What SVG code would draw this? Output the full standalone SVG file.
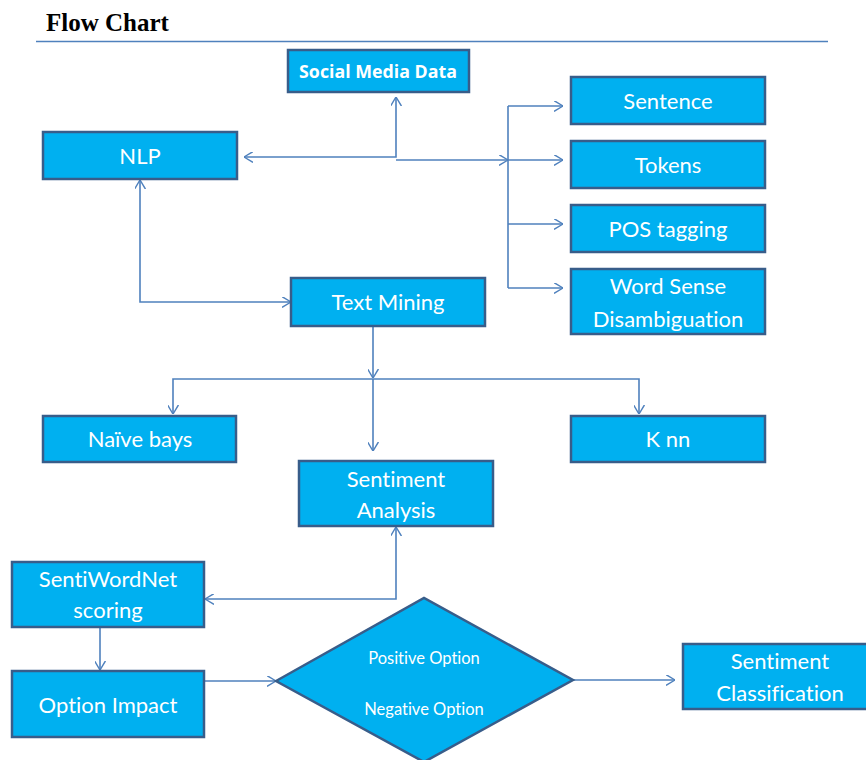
<svg xmlns="http://www.w3.org/2000/svg" width="866" height="760" viewBox="0 0 866 760">
<style>
text{font-variant-ligatures:none;font-feature-settings:"liga" 0,"clig" 0,"dlig" 0}
.box{fill:#00b0f0;stroke:#385d8a;stroke-width:2.5}
.t{fill:#ffffff;font-family:Lato,"Open Sans",sans-serif;font-size:22px;text-anchor:middle}
.ts{fill:#ffffff;font-family:Lato,"Open Sans",sans-serif;font-size:16.5px;text-anchor:middle}
.c{fill:none;stroke:#4f81bd;stroke-width:1.6}
</style>
<defs>
<marker id="a" viewBox="0 0 10 12" refX="10" refY="6" markerWidth="9" markerHeight="11" markerUnits="userSpaceOnUse" orient="auto-start-reverse">
<path d="M0,0 L10,6 L0,12" fill="none" stroke="#4f81bd" stroke-width="1.6"/>
</marker>
</defs>
<rect width="866" height="760" fill="#ffffff"/>
<text x="46" y="31" font-family="'Liberation Serif',serif" font-weight="bold" font-size="25" fill="#000">Flow Chart</text>
<line x1="36" y1="41.5" x2="828" y2="41.5" stroke="#4f81bd" stroke-width="1.5"/>

<g id="connectors">
<path class="c" d="M244,157 H396 V97" marker-start="url(#a)" marker-end="url(#a)"/>
<path class="c" d="M396,160 H508" marker-end="url(#a)"/>
<path class="c" d="M508,106 V288"/>
<path class="c" d="M508,106 H563" marker-end="url(#a)"/>
<path class="c" d="M508,160 H563" marker-end="url(#a)"/>
<path class="c" d="M508,224 H563" marker-end="url(#a)"/>
<path class="c" d="M508,288 H563" marker-end="url(#a)"/>
<path class="c" d="M140,180 V302 H291" marker-start="url(#a)" marker-end="url(#a)"/>
<path class="c" d="M373,326 V378" marker-end="url(#a)"/>
<path class="c" d="M173,414 V379 H639 V414" marker-start="url(#a)" marker-end="url(#a)"/>
<path class="c" d="M373,379 V451" marker-end="url(#a)"/>
<path class="c" d="M396,527 V599 H205" marker-start="url(#a)" marker-end="url(#a)"/>
<path class="c" d="M100,627 V670" marker-end="url(#a)"/>
<path class="c" d="M204,681 H276" marker-end="url(#a)"/>
<path class="c" d="M573,680 H675" marker-end="url(#a)"/>
</g>

<g id="social-media-data">
<rect class="box" x="288" y="50" width="181" height="42"/>
<text x="378" y="78" font-family="'Open Sans',Lato,sans-serif" font-weight="bold" font-size="17.8" fill="#fff" text-anchor="middle">Social Media Data</text>
</g>
<g id="nlp">
<rect class="box" x="43" y="132" width="194" height="47"/>
<text class="t" x="140" y="164">NLP</text>
</g>
<g id="sentence">
<rect class="box" x="571" y="77" width="194" height="47"/>
<text class="t" x="668" y="109">Sentence</text>
</g>
<g id="tokens">
<rect class="box" x="571" y="141" width="194" height="47"/>
<text class="t" x="668" y="173">Tokens</text>
</g>
<g id="pos-tagging">
<rect class="box" x="571" y="205" width="194" height="47"/>
<text class="t" x="668" y="237">POS tagging</text>
</g>
<g id="word-sense">
<rect class="box" x="571" y="269" width="194" height="65"/>
<text class="t" x="668" y="294">Word Sense</text>
<text class="t" x="668" y="327">Disambiguation</text>
</g>
<g id="text-mining">
<rect class="box" x="291" y="278" width="194" height="48"/>
<text class="t" x="388" y="310">Text Mining</text>
</g>
<g id="naive-bays">
<rect class="box" x="43" y="416" width="193" height="46"/>
<text class="t" x="140" y="447">Naïve bays</text>
</g>
<g id="knn">
<rect class="box" x="571" y="416" width="194" height="46"/>
<text class="t" x="668" y="447">K nn</text>
</g>
<g id="sentiment-analysis">
<rect class="box" x="299" y="461" width="194" height="65"/>
<text class="t" x="396" y="487">Sentiment</text>
<text class="t" x="396" y="518">Analysis</text>
</g>
<g id="sentiwordnet">
<rect class="box" x="12" y="562" width="192" height="65"/>
<text class="t" x="108" y="587">SentiWordNet</text>
<text class="t" x="108" y="618">scoring</text>
</g>
<g id="option-impact">
<rect class="box" x="12" y="671" width="192" height="66"/>
<text class="t" x="108" y="713">Option Impact</text>
</g>
<g id="decision">
<polygon class="box" points="276,681 424,598 573,680 424,762"/>
<text class="ts" x="424" y="664">Positive Option</text>
<text class="ts" x="424" y="715">Negative Option</text>
</g>
<g id="sentiment-classification">
<rect class="box" x="683" y="644" width="194" height="65"/>
<text class="t" x="780" y="669">Sentiment</text>
<text class="t" x="780" y="701">Classification</text>
</g>
</svg>
